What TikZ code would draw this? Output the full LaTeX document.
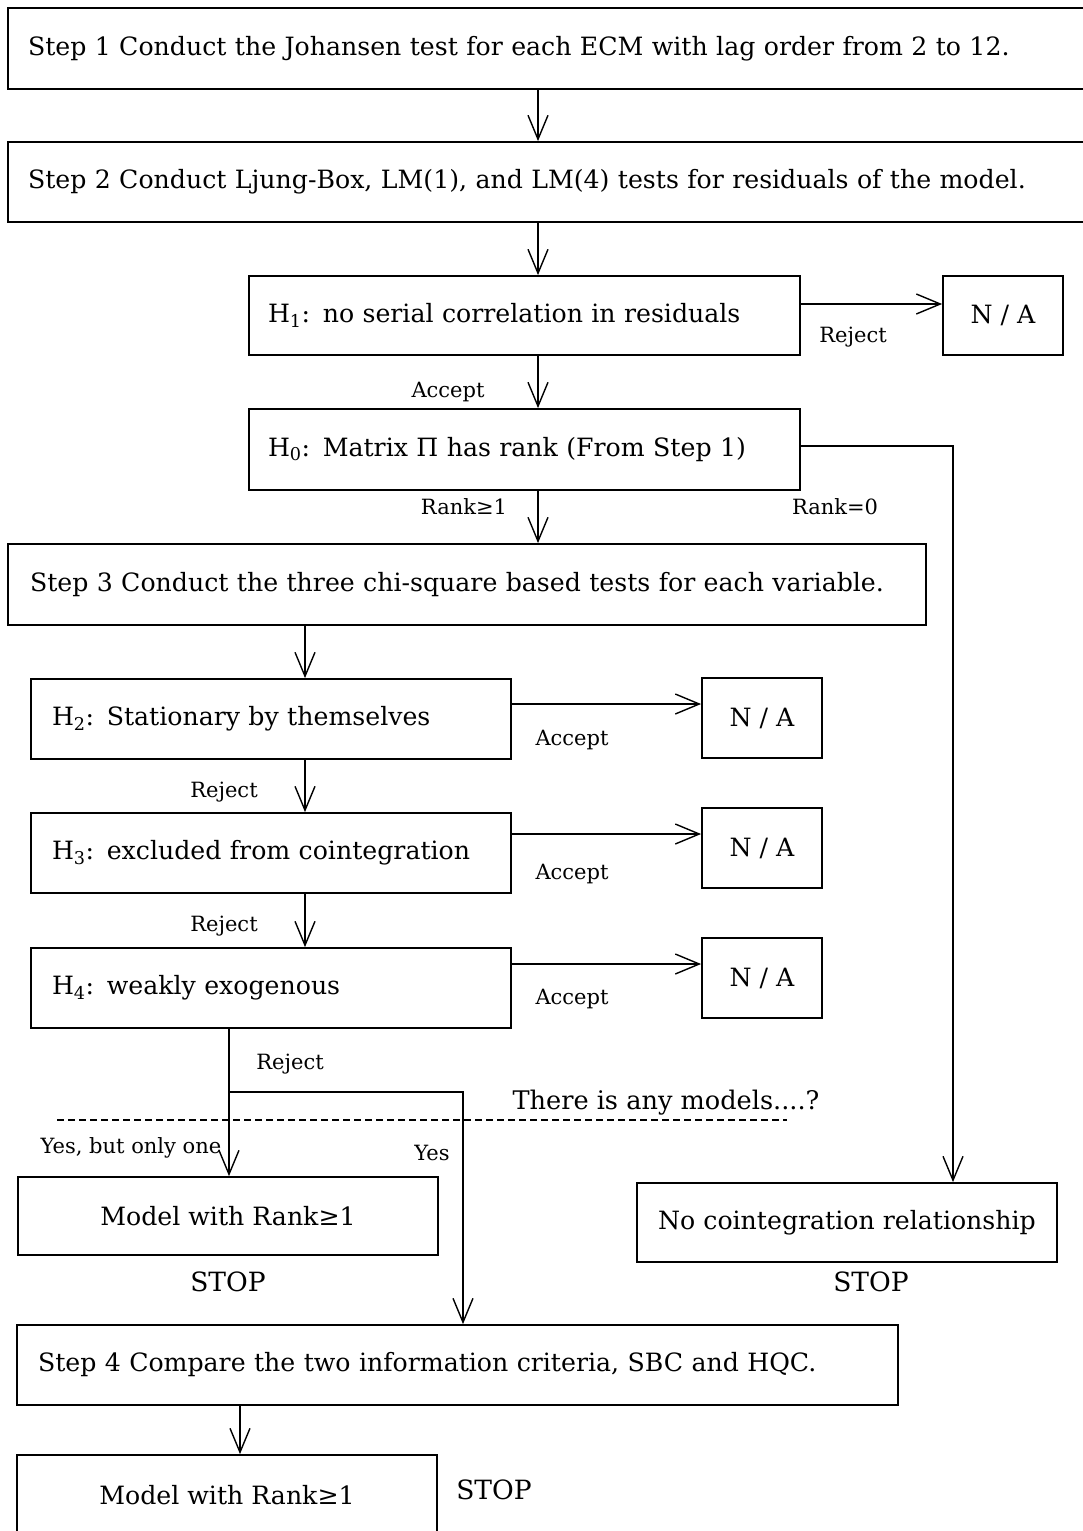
\documentclass[tikz,border=0pt]{standalone}
\usepackage{fontspec}
\setmainfont{DejaVu Serif}
\usetikzlibrary{arrows.meta}
\begin{document}
\begin{tikzpicture}[x=1pt,y=-1pt,
  box/.style={draw, line width=1.8pt, rectangle, inner ysep=0pt, font=\fontsize{25.2}{29}\selectfont},
  lbox/.style={box, align=left},
  cbox/.style={box, align=center, inner xsep=0pt},
  arr/.style={line width=1.4pt, -{Straight Barb[length=24pt,width=20pt,line width=1.4pt]}},
  conn/.style={line width=1.4pt},
  lab/.style={font=\fontsize{21}{25}\selectfont, inner sep=0pt},
  big/.style={font=\fontsize{25.6}{29}\selectfont, inner sep=0pt},
  stopl/.style={font=\fontsize{26.5}{30}\selectfont, inner sep=0pt}]
\useasboundingbox (0,0) rectangle (1082,1531);
% columns and rows
\coordinate (c1) at (538,0);
\coordinate (c2) at (305,0);
\coordinate (c3) at (229,0);
\coordinate (c4) at (463,0);
\coordinate (c5) at (953,0);
\coordinate (c6) at (240,0);
\coordinate (r1) at (0,304);
\coordinate (r0) at (0,446);
\coordinate (r2) at (0,704);
\coordinate (r3) at (0,834);
\coordinate (r4) at (0,964);
\coordinate (rb) at (0,1092);
% boxes
\node[lbox, minimum height=81pt, inner xsep=20pt, text width=1052pt] (s1) at (554,48.5)
  {Step 1 Conduct the Johansen test for each ECM with lag order from 2 to 12.};
\node[lbox, minimum height=80pt, inner xsep=20pt, text width=1052pt] (s2) at (554,182)
  {Step 2 Conduct Ljung-Box, LM(1), and LM(4) tests for residuals of the model.};
\node[lbox, minimum height=79pt, inner xsep=19pt, text width=513pt] (h1) at (524.5,315.5)
  {H\textsubscript{1}: no serial correlation in residuals};
\node[cbox, minimum height=79pt, minimum width=120pt] (na1) at (1003,315.5) {N / A};
\node[lbox, minimum height=81pt, inner xsep=19pt, text width=513pt] (h0) at (524.5,449.5)
  {H\textsubscript{0}: Matrix Π has rank (From Step 1)};
\node[lbox, minimum height=81pt, inner xsep=22pt, text width=874pt] (s3) at (467,584.5)
  {Step 3 Conduct the three chi-square based tests for each variable.};
\node[lbox, minimum height=80pt, inner xsep=21pt, text width=438pt] (h2) at (271,719)
  {H\textsubscript{2}: Stationary by themselves};
\node[cbox, minimum height=80pt, minimum width=120pt] (na2) at (762,718) {N / A};
\node[lbox, minimum height=80pt, inner xsep=21pt, text width=438pt] (h3) at (271,853)
  {H\textsubscript{3}: excluded from cointegration};
\node[cbox, minimum height=80pt, minimum width=120pt] (na3) at (762,848) {N / A};
\node[lbox, minimum height=80pt, inner xsep=21pt, text width=438pt] (h4) at (271,988)
  {H\textsubscript{4}: weakly exogenous};
\node[cbox, minimum height=80pt, minimum width=120pt] (na4) at (762,978) {N / A};
\node[cbox, minimum height=78pt, minimum width=420pt] (m1) at (228,1216) {Model with Rank≥1};
\node[cbox, minimum height=79pt, minimum width=420pt] (nc) at (847,1222.5) {No cointegration relationship};
\node[lbox, minimum height=80pt, inner xsep=21pt, text width=839pt] (s4) at (457.5,1365)
  {Step 4 Compare the two information criteria, SBC and HQC.};
\node[cbox, minimum height=80pt, minimum width=420pt] (m2) at (227,1495) {Model with Rank≥1};
% connectors
\draw[arr] (s1.south -| c1) -- (s2.north -| c1);
\draw[arr] (s2.south -| c1) -- (h1.north -| c1);
\draw[arr] (h1.east |- r1) -- (na1.west |- r1);
\draw[arr] (h1.south -| c1) -- (h0.north -| c1);
\draw[arr] (h0.south -| c1) -- (s3.north -| c1);
\draw[arr] (h0.east |- r0) -- (c5 |- r0) -- (nc.north -| c5);
\draw[arr] (s3.south -| c2) -- (h2.north -| c2);
\draw[arr] (h2.east |- r2) -- (na2.west |- r2);
\draw[arr] (h2.south -| c2) -- (h3.north -| c2);
\draw[arr] (h3.east |- r3) -- (na3.west |- r3);
\draw[arr] (h3.south -| c2) -- (h4.north -| c2);
\draw[arr] (h4.east |- r4) -- (na4.west |- r4);
\draw[arr] (h4.south -| c3) -- (m1.north -| c3);
\draw[arr] (c3 |- rb) -- (c4 |- rb) -- (s4.north -| c4);
\draw[arr] (s4.south -| c6) -- (m2.north -| c6);
% dashed separator
\coordinate (d1) at (57,1120);
\coordinate (d2) at (787,1120);
\draw[line width=1.2pt, dash pattern=on 7pt off 4pt] (d1) -- (d2);
% labels
\node[lab] (l1) at (853,337) {Reject};
\node[lab] (l2) at (448,392) {Accept};
\node[lab] (l3) at (464,507) {Rank≥1};
\node[lab] (l4) at (835,507) {Rank=0};
\node[lab] (l5) at (572,740) {Accept};
\node[lab] (l6) at (224,792) {Reject};
\node[lab] (l7) at (572,874) {Accept};
\node[lab] (l8) at (224,926) {Reject};
\node[lab] (l9) at (572,999) {Accept};
\node[lab] (l10) at (290,1064) {Reject};
\node[big] (l11) at (666,1103) {There is any models....?};
\node[lab] (l12) at (131,1148) {Yes, but only one};
\node[lab] (l13) at (432,1153) {Yes};
\node[stopl] (st1) at (228,1282) {STOP};
\node[stopl] (st2) at (871,1282) {STOP};
\node[stopl] (st3) at (494,1490) {STOP};
\end{tikzpicture}
\end{document}
